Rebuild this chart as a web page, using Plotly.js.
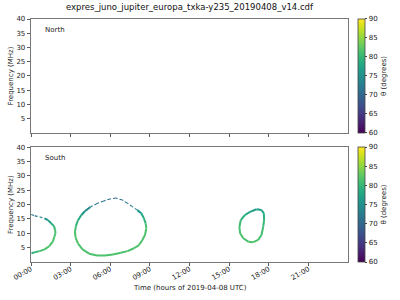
<!DOCTYPE html>
<html><head><meta charset="utf-8">
<script src="https://cdn.plot.ly/plotly-3.0.1.min.js"></script>
<style>html,body{margin:0;padding:0;background:#fff}#plot{width:400px;height:300px}</style>
</head><body><div id="plot"></div>
<script>
// ---- data (time in hours, frequency in MHz, theta in degrees)
const chartTitle = "expres_juno_jupiter_europa_txka-y235_20190408_v14.cdf";
const xTickVals = [0, 3, 6, 9, 12, 15, 18, 21];
const xTickText = ["00:00", "03:00", "06:00", "09:00", "12:00", "15:00", "18:00", "21:00"];
const yTickVals = [5, 10, 15, 20, 25, 30, 35, 40];
const cbTickVals = [60, 65, 70, 75, 80, 85, 90];

// North hemisphere: no emission
const northTime = [];
const northFreq = [];
const northTheta = [];

// South hemisphere: three emission arcs
const southA_time  = [0.02, 0.28, 0.65, 1.03, 1.28, 1.52, 1.73, 1.83, 1.85, 1.77, 1.65, 1.40, 1.03, 0.65, 0.28, 0.03];
const southA_freq  = [16.6, 16.1, 15.8, 15.2, 14.6, 13.5, 12.6, 11.2, 10.0, 8.8, 7.1, 5.6, 4.4, 3.8, 3.4, 3.0];
const southA_theta = [70.5, 71, 72, 73.5, 76, 78, 80, 81, 81.5, 81.5, 81.5, 81.5, 81.5, 81, 80, 79];

const southB_time  = [6.43, 6.0, 5.5, 5.0, 4.5, 4.1, 3.8, 3.55, 3.4, 3.33, 3.38, 3.55, 3.9, 4.4, 5.0, 5.6, 6.2, 6.8, 7.3, 7.8, 8.18, 8.43, 8.63, 8.73, 8.68, 8.55, 8.35, 8.05, 7.68, 7.3, 6.92, 6.43];
const southB_freq  = [22.3, 22.0, 21.3, 20.4, 19.2, 17.8, 16.3, 14.5, 12.5, 10.5, 8.5, 6.5, 4.4, 2.9, 2.3, 2.3, 2.6, 3.2, 3.8, 4.8, 5.9, 7.7, 9.4, 11.7, 13.5, 15.2, 17.0, 18.1, 19.3, 20.5, 21.6, 22.3];
const southB_theta = [70.5, 71, 71.5, 72, 73, 75, 77, 79, 80.5, 81.5, 81.5, 81.5, 81.5, 81.5, 81.5, 81.5, 81.5, 81.5, 81.5, 81.5, 81.5, 81.5, 81.5, 81.5, 80.5, 79, 77, 74, 72.5, 71.5, 71, 70.5];

const southC_time  = [17.08, 16.58, 16.2, 15.88, 15.78, 15.83, 16.07, 16.45, 16.83, 17.2, 17.45, 17.58, 17.65, 17.63, 17.45, 17.08];
const southC_freq  = [18.4, 17.5, 16.4, 14.6, 12.3, 10.0, 8.3, 7.1, 6.9, 7.7, 9.4, 12.3, 14.6, 17.0, 18.1, 18.4];
const southC_theta = [76.5, 77.5, 78.5, 80, 81, 81.5, 81.5, 81.5, 81.5, 81.5, 81, 80.5, 80, 78, 76.5, 76.5];

// ---- styling helpers
const viridis = [[0,'#440154'],[0.0627,'#48186a'],[0.1255,'#472d7b'],[0.1882,'#424086'],[0.2510,'#3b528b'],[0.3137,'#33638d'],[0.3765,'#2c728e'],[0.4392,'#26828e'],[0.5020,'#21918c'],[0.5647,'#1fa088'],[0.6275,'#28ae80'],[0.6902,'#3fbc73'],[0.7529,'#5ec962'],[0.8157,'#84d44b'],[0.8784,'#addc30'],[0.9412,'#d8e219'],[1,'#fde725']];
const cmin = 60, cmax = 90;
function hex2rgb(h){return [1,3,5].map(i=>parseInt(h.substr(i,2),16));}
function colorFor(v){
  let u = Math.max(0, Math.min(1, (v - cmin) / (cmax - cmin)));
  for (let i = 1; i < viridis.length; i++) {
    if (u <= viridis[i][0]) {
      const a = viridis[i-1], b = viridis[i];
      const w = (u - a[0]) / (b[0] - a[0]);
      const ca = hex2rgb(a[1]), cb = hex2rgb(b[1]);
      const c = ca.map((x, k) => Math.round(x + (cb[k] - x) * w));
      return 'rgb(' + c.join(',') + ')';
    }
  }
  return viridis[viridis.length-1][1];
}

const font = "DejaVu Sans, Arial, sans-serif";
const traces = [];
function addArc(t, f, th, xa, ya){
  for (let i = 0; i < t.length - 1; i++) {
    const v = (th[i] + th[i+1]) / 2;
    const dark = v < 74;
    traces.push({
      type: 'scatter', mode: 'lines', x: [t[i], t[i+1]], y: [f[i], f[i+1]],
      xaxis: xa, yaxis: ya, hoverinfo: 'skip', showlegend: false,
      line: {color: colorFor(v), width: dark ? 1.1 : 2.0, dash: dark ? '3px,2px' : 'solid'}
    });
  }
}
addArc(southA_time, southA_freq, southA_theta, 'x2', 'y2');
addArc(southB_time, southB_freq, southB_theta, 'x2', 'y2');
addArc(southC_time, southC_freq, southC_theta, 'x2', 'y2');

function cbTrace(xa, ya, yPos, len, xs, ys, cs){
  return {
    type: 'scatter', mode: 'markers', x: xs.length ? xs : [-10], y: ys.length ? ys : [-10],
    xaxis: xa, yaxis: ya, hoverinfo: 'skip', showlegend: false,
    marker: {
      size: 3, color: cs.length ? cs : [75], cmin: cmin, cmax: cmax, colorscale: 'Viridis', showscale: true,
      colorbar: {
        x: 1.03, xanchor: 'left', xpad: 0, ypad: 0, y: yPos, yanchor: 'bottom', len: len, lenmode: 'fraction',
        thickness: 7, outlinewidth: 0.8, outlinecolor: '#444',
        tickmode: 'array', tickvals: cbTickVals, ticks: 'outside', ticklen: 2.5, tickcolor: '#444',
        tickfont: {family: font, size: 7, color: '#222'},
        title: {text: 'θ (degrees)', side: 'right', font: {family: font, size: 7, color: '#222'}}
      }
    }
  };
}
traces.push(cbTrace('x', 'y', 0.531, 0.469, northTime, northFreq, northTheta));
traces.push(cbTrace('x2', 'y2', 0, 0.472, [], [], []));

const axCommon = {
  range: [0, 24], tickmode: 'array', tickvals: xTickVals, ticks: 'outside', ticklen: 3.5, tickwidth: 0.8,
  tickcolor: '#333', showline: true, linecolor: '#555', linewidth: 0.8, mirror: true, showgrid: false, zeroline: false,
  tickfont: {family: font, size: 7, color: '#222'}
};
const yCommon = {
  range: [0, 40], tickmode: 'array', tickvals: yTickVals, ticks: 'outside', ticklen: 3.5, tickwidth: 0.8,
  tickcolor: '#333', showline: true, linecolor: '#555', linewidth: 0.8, mirror: true, showgrid: false, zeroline: false,
  tickfont: {family: font, size: 7, color: '#222'},
  title: {text: 'Frequency (MHz)', font: {family: font, size: 7, color: '#222'}, standoff: 1}
};

const layout = {
  width: 400, height: 300,
  margin: {l: 31, r: 49, t: 19, b: 38},
  paper_bgcolor: '#fff', plot_bgcolor: '#fff',
  title: {text: chartTitle, x: 0.5, xref: 'paper', y: 0.985, yanchor: 'top', font: {family: font, size: 8.5, color: '#111'}},
  xaxis: Object.assign({}, axCommon, {domain: [0, 1], anchor: 'y', showticklabels: false}),
  yaxis: Object.assign({}, yCommon, {domain: [0.531, 1], anchor: 'x'}),
  xaxis2: Object.assign({}, axCommon, {domain: [0, 1], anchor: 'y2', ticktext: xTickText, tickangle: -30, ticklabelstandoff: -4}),
  yaxis2: Object.assign({}, yCommon, {domain: [0, 0.472], anchor: 'x2'}),
  annotations: [
    {text: 'North', xref: 'x', yref: 'y', x: 0.9, y: 36.3, xanchor: 'left', yanchor: 'middle', showarrow: false, font: {family: font, size: 7, color: '#222'}},
    {text: 'South', xref: 'x2', yref: 'y2', x: 0.9, y: 36.3, xanchor: 'left', yanchor: 'middle', showarrow: false, font: {family: font, size: 7, color: '#222'}},
    {text: 'Time (hours of 2019-04-08 UTC)', xref: 'paper', yref: 'paper', x: 0.5, y: -0.105, xanchor: 'center', yanchor: 'middle', showarrow: false, font: {family: font, size: 7, color: '#222'}}
  ],
  showlegend: false
};

Plotly.newPlot('plot', traces, layout, {staticPlot: true, displayModeBar: false});
</script></body></html>
